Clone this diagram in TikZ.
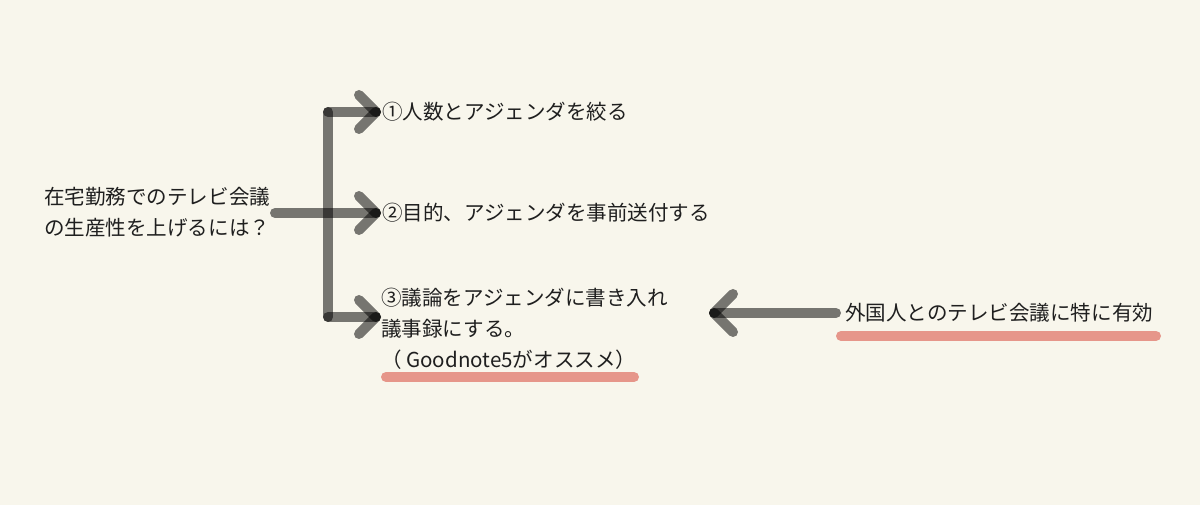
\documentclass[tikz,border=0pt]{standalone}
\usepackage{fontspec}
\setmainfont{Noto Sans CJK JP}
\begin{document}
\begin{tikzpicture}[x=0.75pt,y=-0.75pt,
  txt/.style={inner sep=0pt,anchor=west,align=left,text=black!88,font=\fontsize{15.4}{23.25}\selectfont},
  stroke/.style={draw=black,draw opacity=0.52,line width=7.5pt,line cap=round},
  uline/.style={draw=pinkline,line width=7.5pt,line cap=round}]
\definecolor{bg}{HTML}{F8F6EC}
\definecolor{pinkline}{HTML}{E6968A}
\fill[bg] (0,0) rectangle (1200,505);
\useasboundingbox (0,0) rectangle (1200,505);
% texts
\node[txt] (q) at (44,212.5) {在宅勤務でのテレビ会議\\の生産性を上げるには？};
\node[txt] (a1) at (382,112) {①人数とアジェンダを絞る};
\node[txt] (a2) at (382,213) {②目的、アジェンダを事前送付する};
\node[txt] (a3) at (381,329) {③議論をアジェンダに書き入れ\\議事録にする。\\（ Goodnote5がオススメ）};
\node[txt] (n) at (845,313) {外国人とのテレビ会議に特に有効};
% coordinates
\coordinate (qs) at (275,213);
\coordinate (j1) at (328,112);
\coordinate (j2) at (328,213);
\coordinate (j3) at (328,317);
\coordinate (t1) at (376,112);
\coordinate (t2) at (376,213);
\coordinate (t3) at (376,317);
\coordinate (ns) at (836,313);
\coordinate (nt) at (714,313);
% tree
\draw[stroke] (qs) -- (t2);
\draw[stroke] (j1) -- (j3);
\draw[stroke] (j1) -- (t1);
\draw[stroke] (j3) -- (t3);
\foreach \t in {t1,t2,t3}{
  \draw[stroke] (\t) -- ++(-17,-17);
  \draw[stroke] (\t) -- ++(-17,17);
}
% right arrow
\draw[stroke] (ns) -- (nt);
\draw[stroke] (nt) -- ++(19,-19);
\draw[stroke] (nt) -- ++(19,19);
% underlines
\coordinate (u1a) at (386,377);
\coordinate (u1b) at (634,377);
\coordinate (u2a) at (841,336);
\coordinate (u2b) at (1156,336);
\draw[uline] (u1a) -- (u1b);
\draw[uline] (u2a) -- (u2b);
\end{tikzpicture}
\end{document}
